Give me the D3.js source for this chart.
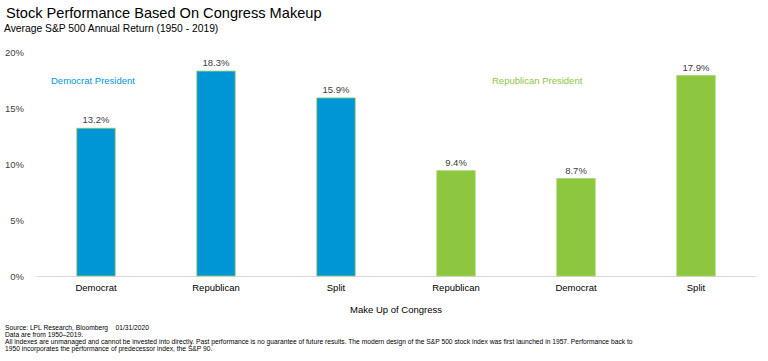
<!DOCTYPE html>
<html><head><meta charset="utf-8">
<script src="https://cdn.jsdelivr.net/npm/d3@7"></script>
<style>body{margin:0;background:#fff}svg{display:block;font-family:"Liberation Sans",Arial,sans-serif}.fn{white-space:pre}</style>
</head><body><svg id="c" width="768" height="361"></svg>
<script>
const categories = ["Democrat","Republican","Split","Republican","Democrat","Split"];
const groups = ["Democrat President","Democrat President","Democrat President","Republican President","Republican President","Republican President"];
const values = [13.2,18.3,15.9,9.4,8.7,17.9];
const yTicks = [0,5,10,15,20];
const footnotes = [
 "Source: LPL Research, Bloomberg    01/31/2020",
 "Data are from 1950\u20132019.",
 "All indexes are unmanaged and cannot be invested into directly. Past performance is no guarantee of future results. The modern design of the S&P 500 stock index was first launched in 1957. Performance back to",
 "1950 incorporates the performance of predecessor index, the S&P 90."
];
const colors = {"Democrat President":"#0096D6","Republican President":"#8DC63F"};

const svg = d3.select("#c");
const x = d3.scaleBand().domain(d3.range(values.length)).range([36,756]).paddingInner(0.68).paddingOuter(0.34);
const y = d3.scaleLinear().domain([0,20]).range([276,52]);

svg.append("text").attr("x",6).attr("y",18).attr("font-size",14.6).attr("fill","#000").text("Stock Performance Based On Congress Makeup");
svg.append("text").attr("x",4).attr("y",32).attr("font-size",10.3).attr("fill","#000").text("Average S&P 500 Annual Return (1950 - 2019)");

const yAxis = svg.append("g").attr("transform","translate(27,0)")
 .call(d3.axisLeft(y).tickValues(yTicks).tickSize(0).tickFormat(d=>d+"%"));
yAxis.select(".domain").remove();
yAxis.selectAll("text").attr("font-size",9.5).attr("fill","#404040").attr("font-family","Liberation Sans, Arial, sans-serif");

const xAxis = svg.append("g").attr("transform","translate(0,276)")
 .call(d3.axisBottom(x).tickSize(0).tickPadding(8).tickFormat(i=>categories[i]));
xAxis.select(".domain").attr("stroke","#d9d9d9").attr("stroke-width",1);
xAxis.selectAll("text").attr("font-size",9.5).attr("fill","#000").attr("font-family","Liberation Sans, Arial, sans-serif");

svg.append("g").selectAll("rect").data(values).join("rect")
 .attr("x",(d,i)=>x(i)).attr("width",x.bandwidth())
 .attr("y",d=>y(d)).attr("height",d=>y(0)-y(d))
 .attr("fill",(d,i)=>colors[groups[i]])
 .attr("stroke",(d,i)=>groups[i]==="Democrat President"?"#9fd36b":"#a8d46f").attr("stroke-width",0.8);

svg.append("g").selectAll("text").data(values).join("text")
 .attr("x",(d,i)=>x(i)+x.bandwidth()/2).attr("y",d=>y(d)-5)
 .attr("text-anchor","middle").attr("font-size",9.5).attr("fill","#404040")
 .text(d=>d.toFixed(1)+"%");

svg.append("text").attr("x",51).attr("y",84).attr("font-size",9.5).attr("fill",colors["Democrat President"]).text("Democrat President");
svg.append("text").attr("x",492).attr("y",84).attr("font-size",9.5).attr("fill",colors["Republican President"]).text("Republican President");

svg.append("text").attr("x",396).attr("y",313).attr("text-anchor","middle").attr("font-size",9.5).attr("fill","#000").text("Make Up of Congress");

svg.append("g").selectAll("text").data(footnotes).join("text")
 .attr("class","fn")
 .attr("x",5).attr("y",(d,i)=>330+i*7).attr("font-size",6.7).attr("fill","#000").text(d=>d);
</script></body></html>
